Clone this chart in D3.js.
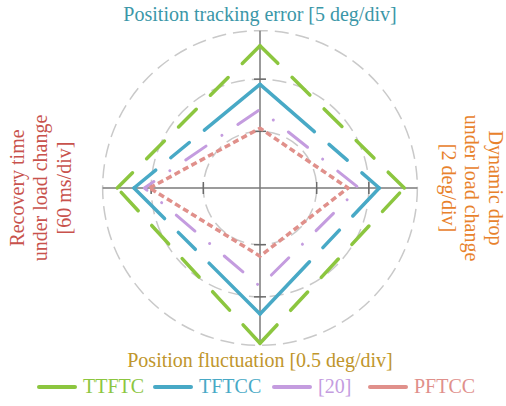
<!DOCTYPE html>
<html>
<head>
<meta charset="utf-8">
<script src="https://cdn.jsdelivr.net/npm/d3@7"></script>
<style>
  html, body { margin: 0; padding: 0; background: #fff; }
  svg { display: block; font-family: "Liberation Serif", "Times New Roman", serif; }
</style>
</head>
<body>
<svg id="chart" width="506" height="406"></svg>
<script>
// ---- data -------------------------------------------------------------
// Axes clockwise from the top; each label may span several lines.
const axisLabels = [
  ["Position tracking error [5 deg/div]"],
  ["Dynamic drop", "under load change", "[2 deg/div]"],
  ["Position fluctuation [0.5 deg/div]"],
  ["Recovery time", "under load change", "[60 ms/div]"]
];
const seriesNames = ["TTFTC", "TFTCC", "[20]", "PFTCC"];
// values in divisions, same axis order as above
const ttftc = [2.64, 2.68, 2.89, 2.65];
const tftcc = [1.90, 2.20, 2.33, 2.33];
const ref20 = [1.42, 1.81, 1.80, 2.13];
const pftcc = [1.06, 1.60, 1.22, 2.03];
const gridLevels = [1, 2];
const outerLevel = 2.93;

// ---- styles -----------------------------------------------------------
const axisColors = ["#3B97A8", "#E8822C", "#C0962C", "#C8524C"];
const seriesStyle = {
  "TTFTC": { color: "#8CC63F", width: 3.5, mode: "edges",  dash: [25, 20] },
  "TFTCC": { color: "#48A9C6", width: 3.5, mode: "edges",  dash: [72, 19.5, 24, 19.5] },
  "[20]":  { color: "#C49CDF", width: 3,   mode: "closed", dash: [24.5, 19.25, 0.01, 19.25], offset: 13 },
  "PFTCC": { color: "#E0908B", width: 3.5, mode: "closed", dash: [6, 3.5], cap: "butt" }
};
const seriesValues = { "TTFTC": ttftc, "TFTCC": tftcc, "[20]": ref20, "PFTCC": pftcc };

// ---- layout -----------------------------------------------------------
const svg = d3.select("#chart");
const cx = 260, cy = 188;
const rScale = d3.scaleLinear().domain([0, 3]).range([4.5, 161]);
const aScale = d3.scaleLinear().domain([0, axisLabels.length]).range([0, 2 * Math.PI]);
const pt = (i, v) => {
  const a = aScale(i), r = rScale(v);
  return [cx + r * Math.sin(a), cy - r * Math.cos(a)];
};

// grid rings
const rings = gridLevels.concat([outerLevel]);
svg.append("g").selectAll("circle").data(rings).join("circle")
  .attr("cx", cx).attr("cy", cy)
  .attr("r", d => rScale(d))
  .attr("fill", "none")
  .attr("stroke", "#c9c9c9")
  .attr("stroke-width", 1.5)
  .attr("stroke-dasharray", "14,7");

// spokes
const axisG = svg.append("g");
axisG.selectAll("line.spoke").data(d3.range(axisLabels.length)).join("line")
  .attr("class", "spoke")
  .attr("x1", cx).attr("y1", cy)
  .attr("x2", i => pt(i, outerLevel)[0])
  .attr("y2", i => pt(i, outerLevel)[1])
  .attr("stroke", "#7a7a7a").attr("stroke-width", 1.5);

// ticks across each spoke at the grid levels
const tickData = d3.cross(d3.range(axisLabels.length), gridLevels);
axisG.selectAll("line.tick").data(tickData).join("line")
  .attr("class", "tick")
  .each(function ([i, v]) {
    const [x, y] = pt(i, v), a = aScale(i), h = 6;
    d3.select(this)
      .attr("x1", x - h * Math.cos(a)).attr("y1", y - h * Math.sin(a))
      .attr("x2", x + h * Math.cos(a)).attr("y2", y + h * Math.sin(a));
  })
  .attr("stroke", "#6a6a6a").attr("stroke-width", 1.5);

// series
const line = d3.line();
const edges = [[0, 1], [0, 3], [2, 1], [2, 3]];
const seriesG = svg.append("g");
seriesNames.forEach(name => {
  const st = seriesStyle[name], vals = seriesValues[name];
  const g = seriesG.append("g");
  let paths;
  if (st.mode === "edges") {
    paths = g.selectAll("path").data(edges).join("path")
      .attr("d", ([a, b]) => line([pt(a, vals[a]), pt(b, vals[b])]));
  } else {
    const order = [3, 0, 1, 2];
    paths = g.append("path")
      .attr("d", line.curve(d3.curveLinearClosed)(order.map(i => pt(i, vals[i]))));
    line.curve(d3.curveLinear);
  }
  paths.attr("fill", "none")
    .attr("stroke", st.color)
    .attr("stroke-width", st.width)
    .attr("stroke-linecap", st.cap || "round")
    .attr("stroke-linejoin", "round")
    .attr("stroke-dasharray", st.dash.join(","))
    .attr("stroke-dashoffset", st.offset || 0);
});

// axis titles
const fs = 20, lh = 23.5;
const titles = svg.append("g").attr("font-size", fs);
titles.append("text").attr("x", cx).attr("y", 21)
  .attr("text-anchor", "middle").attr("fill", axisColors[0]).text(axisLabels[0][0]);
titles.append("text").attr("x", cx).attr("y", 367)
  .attr("text-anchor", "middle").attr("fill", axisColors[2]).text(axisLabels[2][0]);
// right label, reading top to bottom
const right = titles.append("text")
  .attr("transform", `translate(488.5,${cy}) rotate(90)`)
  .attr("text-anchor", "middle").attr("fill", axisColors[1]);
axisLabels[1].forEach((t, k) => right.append("tspan").attr("x", 0).attr("y", k * lh).text(t));
// left label, reading bottom to top
const left = titles.append("text")
  .attr("transform", `translate(23.5,${cy}) rotate(-90)`)
  .attr("text-anchor", "middle").attr("fill", axisColors[3]);
axisLabels[3].forEach((t, k) => left.append("tspan").attr("x", 0).attr("y", k * lh).text(t));

// legend
const legendX = [37, 153, 272, 368];
const legend = svg.append("g").attr("font-size", fs);
seriesNames.forEach((name, k) => {
  const st = seriesStyle[name], x = legendX[k];
  legend.append("line")
    .attr("x1", x + 2).attr("x2", x + 38).attr("y1", 387).attr("y2", 387)
    .attr("stroke", st.color).attr("stroke-width", 4).attr("stroke-linecap", "round");
  legend.append("text").attr("x", x + 46).attr("y", 393)
    .attr("fill", st.color).text(name);
});
</script>
</body>
</html>
